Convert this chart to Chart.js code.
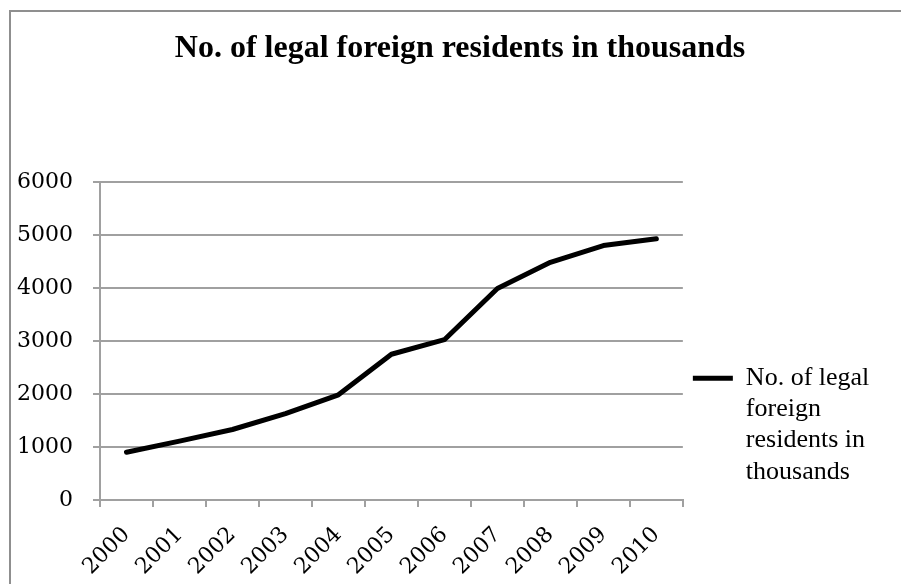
<!DOCTYPE html>
<html>
<head>
<meta charset="utf-8">
<title>No. of legal foreign residents in thousands</title>
<script src="https://cdn.jsdelivr.net/npm/chart.js@4.4.1/dist/chart.umd.min.js"></script>
<style>
  html, body { margin: 0; padding: 0; background: #fff; }
  #wrap { width: 901px; height: 584px; }
</style>
</head>
<body>
<div id="wrap"><canvas id="residentsChart" width="901" height="584"></canvas></div>
<script>
// yearly figures, thousands of people
const years = ['2000', '2001', '2002', '2003', '2004', '2005', '2006', '2007', '2008', '2009', '2010'];
const residents = [900, 1110, 1330, 1630, 1985, 2750, 3025, 3990, 4485, 4800, 4930];
const yTicks = [0, 1000, 2000, 3000, 4000, 5000, 6000];

const chartTitle = 'No. of legal foreign residents in thousands';
const legendLines = ['No. of legal', 'foreign', 'residents in', 'thousands'];

const SERIF = "'Liberation Serif', 'Times New Roman', serif";
const TICK_FONT = { family: "'DejaVu Serif', Cambria, serif", size: 22 };
const GRID = '#a0a0a0';

// gray frame round the whole chart (runs off the right and bottom edge)
// plus the bold heading, which sits a little right of the canvas centre
const framePlugin = {
    id: 'frame',
    beforeDraw(chart) {
        const { ctx } = chart;
        ctx.save();
        ctx.strokeStyle = '#8f8f8f';
        ctx.lineWidth = 2;
        ctx.strokeRect(10, 11, chart.width + 20, chart.height + 20);

        ctx.fillStyle = '#000';
        ctx.font = `bold 32px ${SERIF}`;
        ctx.textAlign = 'center';
        ctx.textBaseline = 'middle';
        ctx.fillText(chartTitle, 460, 49);
        ctx.restore();
    }
};

Chart.defaults.color = '#000';

new Chart(document.getElementById('residentsChart'), {
    type: 'line',
    data: {
        labels: years,
        datasets: [{
            label: chartTitle,
            data: residents,
            borderColor: '#000',
            backgroundColor: '#000',
            borderWidth: 5,
            borderCapStyle: 'round',
            borderJoinStyle: 'round',
            pointRadius: 0,
            tension: 0,
            fill: false
        }]
    },
    options: {
        responsive: false,
        animation: false,
        layout: { padding: { left: 14, right: 26, top: 182, bottom: 0 } },
        plugins: {
            title: { display: false },
            legend: {
                position: 'right',
                align: 'end',
                fullSize: false,
                labels: {
                    usePointStyle: true,
                    pointStyle: 'line',
                    pointStyleWidth: 40,
                    padding: 10,
                    font: { family: SERIF, size: 26 },
                    color: '#000',
                    generateLabels(chart) {
                        const items = Chart.defaults.plugins.legend.labels.generateLabels(chart);
                        items.forEach(item => { item.text = legendLines; });
                        return items;
                    }
                }
            },
            tooltip: { enabled: false }
        },
        scales: {
            x: {
                offset: true,
                grid: {
                    offset: true,
                    drawOnChartArea: false,
                    drawTicks: true,
                    tickLength: 7,
                    color: GRID,
                    lineWidth: 2
                },
                border: { display: true, color: GRID, width: 2 },
                ticks: {
                    autoSkip: false,
                    minRotation: 45,
                    maxRotation: 45,
                    padding: 15,
                    font: TICK_FONT
                },
                afterFit(scale) { scale.height = 84; }
            },
            y: {
                min: yTicks[0],
                max: yTicks[yTicks.length - 1],
                grid: {
                    color: GRID,
                    lineWidth: 2,
                    tickLength: 7
                },
                border: { display: true, color: GRID, width: 2 },
                ticks: {
                    stepSize: yTicks[1] - yTicks[0],
                    padding: 20,
                    font: TICK_FONT,
                    callback: (value) => String(value)
                },
                afterFit(scale) { scale.width = 86; }
            }
        }
    },
    plugins: [framePlugin]
});
</script>
</body>
</html>
